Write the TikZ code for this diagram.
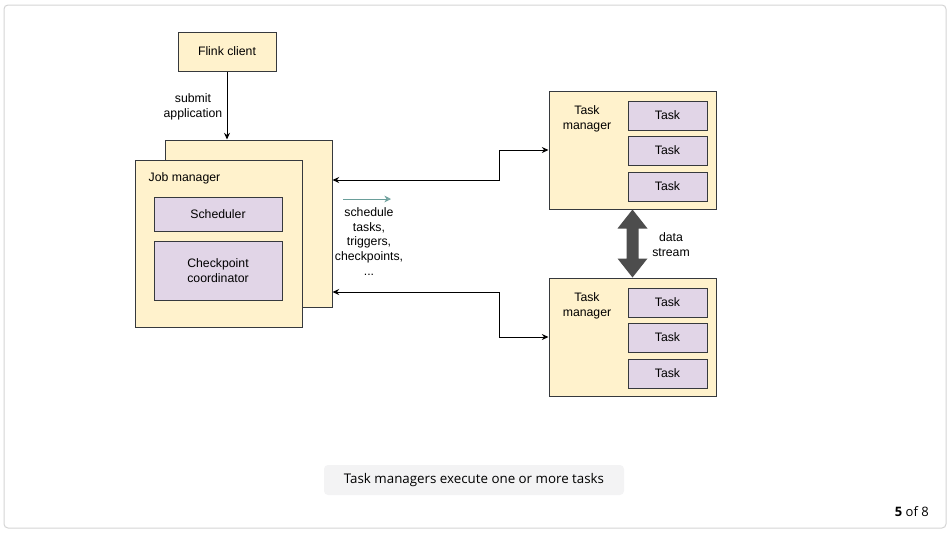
\documentclass[tikz,border=0pt]{standalone}
\usepackage{fontspec}
\setmainfont{Liberation Sans}
\newfontfamily\capfont{Open Sans}
\usetikzlibrary{arrows.meta}
\definecolor{tmfill}{HTML}{FFF2CC}
\definecolor{taskfill}{HTML}{E1D5E7}
\definecolor{boxline}{HTML}{36393D}
\definecolor{streamgray}{HTML}{4D4D4D}
\definecolor{hintteal}{HTML}{6A9E9A}
\definecolor{framegray}{HTML}{D4D4D4}
\definecolor{capfill}{HTML}{F3F3F4}

\begin{document}
\begin{tikzpicture}[x=0.75pt,y=-0.75pt,
    font=\fontsize{9.2}{11}\selectfont,
    yellowbox/.style={draw=boxline,fill=tmfill,line width=0.75pt,inner sep=0pt},
    taskbox/.style={draw=boxline,fill=taskfill,line width=0.75pt,inner sep=0pt,align=center},
    link/.style={line width=0.75pt,{Stealth[length=5pt,width=4.5pt]}-{Stealth[length=5pt,width=4.5pt]}}]
        \useasboundingbox (0,0) rectangle (951,533);
        % Outer frame of the slide
        \draw[framegray,line width=0.75pt,rounded corners=3pt] (4,5) rectangle (946,528);

        % Client and job manager
        \node[yellowbox,minimum width=73.5pt,minimum height=29.25pt] (client) at (227,51.5) {Flink client};
        \node[yellowbox,minimum width=125.25pt,minimum height=125.25pt] (jmback) at (248.5,223.5) {};  % back copy
        \node[yellowbox,minimum width=125.25pt,minimum height=125.25pt] (jm) at (218.5,243.5) {};  % front copy
        \node[anchor=west] (jmlabel) at (144,178.5) {Job manager};
        \node[taskbox,minimum width=96pt,minimum height=25.5pt] (sched) at (218,214) {Scheduler};
        \node[taskbox,minimum width=96pt,minimum height=44.25pt] (ckpt) at (218,270.5) {Checkpoint\\coordinator};

        \draw[-{Stealth[length=5pt,width=4.5pt]},line width=0.75pt] (client.south) -- (client.south |- jmback.north);
        \node[align=center] (submit) at (193,107) {submit\\application};

        % Task managers
        \foreach \tm/\ty in {tm1/150,tm2/337}{
            \node[yellowbox,minimum width=125.25pt,minimum height=88.5pt] (\tm) at (632.5,\ty) {};
            \node[align=center] (\tm label) at (587,\ty-31.5) {Task\\manager};
            \foreach \i/\dy in {1/-34.5,2/0.5,3/36.5}
                \node[taskbox,minimum width=59.25pt,minimum height=21.75pt] (\tm task\i) at (667.5,\ty+\dy) {Task};
        }

        % Connections between job manager and task managers
        \draw[link] (tm1.west) -- ++(-49,0) |- (jmback.east |- 0,180);
        \draw[link] (tm2.west) -- ++(-49,0) |- (jmback.east |- 0,292);

        % Hint arrow and its label
        \node[align=center] (hint) at (369,241.5) {schedule\\tasks,\\triggers,\\checkpoints,\\...};
        \coordinate (hintstart) at (343,199);
        \coordinate (hintend) at (391,199);
        \draw[hintteal,line width=0.75pt,-{Stealth[length=5pt,width=5pt,open]}] (hintstart) -- (hintend);

        % Data stream between the task managers
        \fill[streamgray] (tm1.south) -- ++(-15,19) -- ++(9,0) -- ++(0,30) -- ++(-9,0) -- (tm2.north)
            -- ++(15,-19) -- ++(-9,0) -- ++(0,-30) -- ++(9,0) -- cycle;
        \node[align=center] (stream) at (671,244.5) {data\\stream};

        % Caption and page number
        \node[fill=capfill,rounded corners=3pt,minimum width=225pt,minimum height=22.5pt,font=\capfont\fontsize{10}{12}\selectfont] (caption) at (474,480) {Task managers execute one or more tasks};
        \node[anchor=east,inner sep=0pt,font=\capfont\fontsize{9.75}{12}\selectfont] (page) at (929,512) {\textbf{5} of 8};
    \end{tikzpicture}
\end{document}
